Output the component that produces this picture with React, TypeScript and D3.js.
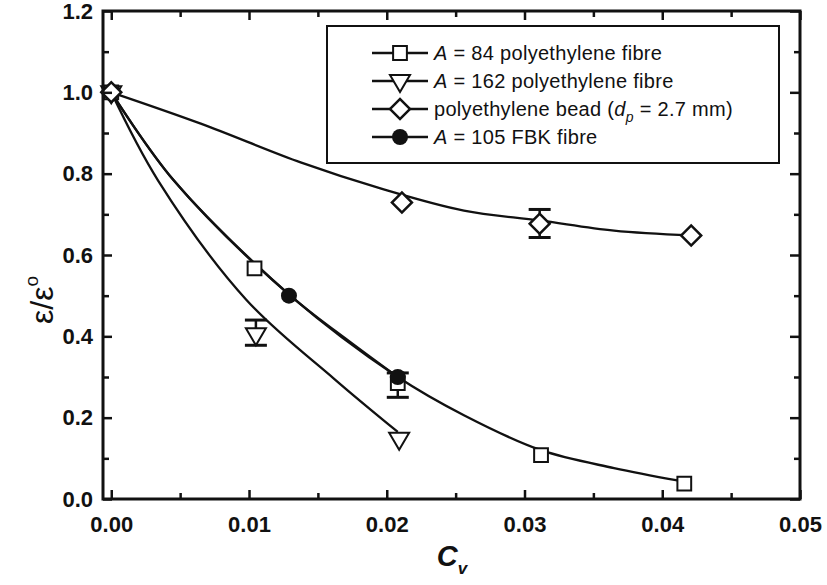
import { useRef, useEffect } from "react";
import * as d3 from "d3";

// measured points (Cv, epsilon/epsilon0)
const cvSquare = [0, 0.0104, 0.0208, 0.0312, 0.0416];
const epsSquare = [1.0, 0.567, 0.285, 0.108, 0.038];
const cvTriangle = [0, 0.0105, 0.0209];
const epsTriangle = [1.0, 0.405, 0.148];
const cvDiamond = [0, 0.0211, 0.0311, 0.0421];
const epsDiamond = [1.0, 0.729, 0.677, 0.648];
const cvCircle = [0.0129, 0.0208];
const epsCircle = [0.5, 0.3];

// error bars
const errCv = [0.0105, 0.0208, 0.0311];
const errLo = [0.378, 0.25, 0.643];
const errHi = [0.44, 0.31, 0.712];

// fitted curves
const fitSquareCv = [0, 0.0045, 0.013, 0.0208, 0.0256, 0.0312, 0.0365, 0.0412];
const fitSquareEps = [1.0, 0.785, 0.5, 0.3, 0.206, 0.12, 0.076, 0.045];
const fitCircleCv = [0, 0.0045, 0.013, 0.017, 0.0208];
const fitCircleEps = [1.0, 0.785, 0.5, 0.395, 0.3];
const fitTriangleCv = [0, 0.0034, 0.0098, 0.0162, 0.0208];
const fitTriangleEps = [1.0, 0.783, 0.49, 0.295, 0.165];
const fitDiamondCv = [0, 0.0065, 0.0138, 0.0196, 0.0256, 0.0311, 0.0365, 0.0421];
const fitDiamondEps = [1.0, 0.923, 0.827, 0.763, 0.709, 0.685, 0.66, 0.648];

const xMajor = [0, 0.01, 0.02, 0.03, 0.04, 0.05];
const xMinor = [0.005, 0.015, 0.025, 0.035, 0.045];
const yMajor = [0, 0.2, 0.4, 0.6, 0.8, 1.0, 1.2];
const yMinor = [0.1, 0.3, 0.5, 0.7, 0.9, 1.1];

const FONT = "'Liberation Sans', Arial, Helvetica, sans-serif";

const W = 827;
const H = 585;
const L = 103, R = 800, T = 11, B = 499;

const x = d3.scaleLinear().domain([-0.0006, 0.05]).range([L, R]);
const y = d3.scaleLinear().domain([0, 1.2]).range([B, T]);

const curve = (cv: number[], eps: number[]) =>
  d3
    .line<number>()
    .x((d) => x(d))
    .y((_, i) => y(eps[i]))
    .curve(d3.curveCatmullRom.alpha(0.5))(cv) as string;

const squarePath = d3.symbol(d3.symbolSquare, 190)() as string;
const diamondPath = d3.symbol(d3.symbolSquare, 200)() as string;
const trianglePath = "M-10,-6L10,-6L0,11Z";

function Marker({ kind, cx, cy }: { kind: string; cx: number; cy: number }) {
  if (kind === "square")
    return <path d={squarePath} transform={`translate(${cx},${cy})`} fill="white" stroke="#111" strokeWidth={2} />;
  if (kind === "diamond")
    return <path d={diamondPath} transform={`translate(${cx},${cy}) rotate(45)`} fill="white" stroke="#111" strokeWidth={2.5} />;
  if (kind === "triangle")
    return <path d={trianglePath} transform={`translate(${cx},${cy})`} fill="white" stroke="#111" strokeWidth={2} />;
  return <circle cx={cx} cy={cy} r={8} fill="#111" />;
}

export default function App() {
  const gRef = useRef<SVGGElement>(null);

  useEffect(() => {
    const g = d3.select(gRef.current);
    g.selectAll("*").remove();
    const none = () => "";

    const styleAxis = (sel: any) => {
      sel.select(".domain").remove();
      sel.selectAll(".tick line").attr("stroke", "#111").attr("stroke-width", 2.5);
      sel.selectAll("text").attr("font-family", FONT).attr("font-size", 22).attr("font-weight", "bold").attr("fill", "#111");
    };

    // bottom
    g.append("g").attr("transform", `translate(0,${B})`)
      .call(d3.axisBottom(x).tickValues(xMajor).tickSize(-9).tickPadding(17).tickFormat(d3.format(".2f") as any))
      .call(styleAxis);
    g.append("g").attr("transform", `translate(0,${B})`)
      .call(d3.axisBottom(x).tickValues(xMinor).tickSize(-6).tickFormat(none))
      .call(styleAxis);
    // top
    g.append("g").attr("transform", `translate(0,${T})`)
      .call(d3.axisTop(x).tickValues(xMajor).tickSize(-9).tickFormat(none))
      .call(styleAxis);
    g.append("g").attr("transform", `translate(0,${T})`)
      .call(d3.axisTop(x).tickValues(xMinor).tickSize(-6).tickFormat(none))
      .call(styleAxis);
    // left
    g.append("g").attr("transform", `translate(${L},0)`)
      .call(d3.axisLeft(y).tickValues(yMajor).tickSize(-9).tickPadding(10).tickFormat(d3.format(".1f") as any))
      .call(styleAxis);
    g.append("g").attr("transform", `translate(${L},0)`)
      .call(d3.axisLeft(y).tickValues(yMinor).tickSize(-6).tickFormat(none))
      .call(styleAxis);
    // right
    g.append("g").attr("transform", `translate(${R},0)`)
      .call(d3.axisRight(y).tickValues(yMajor).tickSize(-10).tickFormat(none))
      .call(styleAxis);
    g.append("g").attr("transform", `translate(${R},0)`)
      .call(d3.axisRight(y).tickValues(yMinor).tickSize(-6).tickFormat(none))
      .call(styleAxis);
  }, []);

  const legendRows = [
    { kind: "square", pre: "A", text: " = 84 polyethylene fibre" },
    { kind: "triangle", pre: "A", text: " = 162 polyethylene fibre" },
    { kind: "diamond", pre: "", text: "polyethylene bead (" },
    { kind: "circle", pre: "A", text: " = 105 FBK fibre" },
  ];
  const legendY = [53, 81, 109, 137];

  return (
    <svg width={W} height={H} style={{ position: "absolute", left: 0, top: 0, background: "white" }}>
      <rect x={0} y={0} width={W} height={H} fill="white" />

      {/* fitted curves */}
      <g fill="none" stroke="#111" strokeWidth={2.3}>
        <path d={curve(fitDiamondCv, fitDiamondEps)} />
        <path d={curve(fitSquareCv, fitSquareEps)} />
        <path d={curve(fitCircleCv, fitCircleEps)} />
        <path d={curve(fitTriangleCv, fitTriangleEps)} />
      </g>

      {/* error bars */}
      <g stroke="#111" strokeWidth={2.5}>
        {errCv.map((c, i) => (
          <g key={i}>
            <line x1={x(c)} x2={x(c)} y1={y(errLo[i])} y2={y(errHi[i])} />
            <line x1={x(c) - 11} x2={x(c) + 11} y1={y(errLo[i])} y2={y(errLo[i])} strokeWidth={3} />
            <line x1={x(c) - 11} x2={x(c) + 11} y1={y(errHi[i])} y2={y(errHi[i])} strokeWidth={3} />
          </g>
        ))}
      </g>

      {/* markers */}
      {cvTriangle.map((c, i) => <Marker key={"t" + i} kind="triangle" cx={x(c)} cy={y(epsTriangle[i])} />)}
      {cvSquare.map((c, i) => <Marker key={"s" + i} kind="square" cx={x(c)} cy={y(epsSquare[i])} />)}
      {cvDiamond.map((c, i) => <Marker key={"d" + i} kind="diamond" cx={x(c)} cy={y(epsDiamond[i])} />)}
      {cvCircle.map((c, i) => <Marker key={"c" + i} kind="circle" cx={x(c)} cy={y(epsCircle[i])} />)}

      {/* frame */}
      <rect x={L} y={T} width={R - L} height={B - T} fill="none" stroke="#111" strokeWidth={3} />
      <g ref={gRef} />

      {/* legend */}
      <rect x={327} y={26} width={452} height={137} fill="white" stroke="#111" strokeWidth={2} />
      {legendRows.map((r, i) => (
        <g key={i}>
          <line x1={372} x2={428} y1={legendY[i]} y2={legendY[i]} stroke="#111" strokeWidth={2.3} />
          <Marker kind={r.kind} cx={400} cy={legendY[i]} />
          <text x={434} y={legendY[i] + 7} fontFamily={FONT} fontSize={20} letterSpacing={0.3} fill="#111">
            {r.pre && <tspan fontStyle="italic">{r.pre}</tspan>}
            <tspan>{r.text}</tspan>
            {i === 2 && (
              <>
                <tspan fontStyle="italic">d</tspan>
                <tspan fontStyle="italic" fontSize={14} dy={6}>p</tspan>
                <tspan dy={-6}> = 2.7 mm)</tspan>
              </>
            )}
          </text>
        </g>
      ))}

      {/* axis titles */}
      <text transform="translate(53,300) rotate(-90)" textAnchor="middle" fontFamily={FONT} fontSize={32} fill="#111">
        <tspan>ε/ε</tspan>
        <tspan fontSize={19} dy={-15}>o</tspan>
      </text>
      <text x={452} y={566} textAnchor="middle" fontFamily={FONT} fontSize={29} fontWeight="bold" fontStyle="italic" fill="#111">
        <tspan>C</tspan>
        <tspan fontSize={17} dy={8}>v</tspan>
      </text>
    </svg>
  );
}
